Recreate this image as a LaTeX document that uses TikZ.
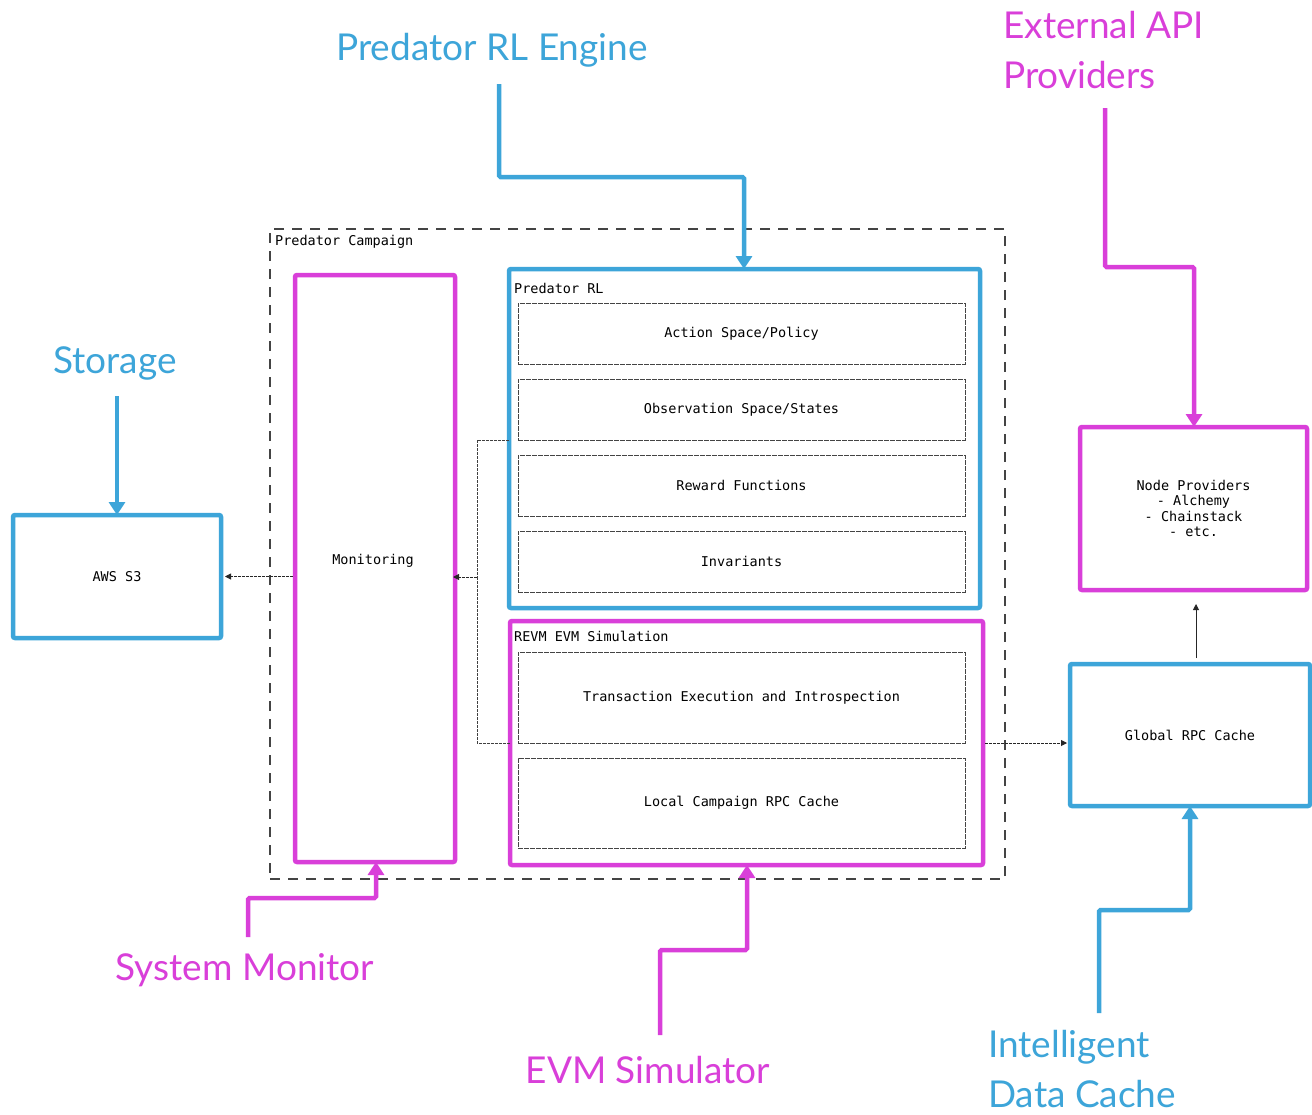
\documentclass[tikz,border=0pt]{standalone}
\usepackage{fontspec}
\setmainfont{Lato}
\setmonofont{DejaVu Sans Mono}
\usetikzlibrary{arrows.meta,calc}
\definecolor{cblue}{HTML}{3DA5D9}
\definecolor{cmag}{HTML}{D93FD9}
\definecolor{cgray}{HTML}{444444}

\begin{document}
\begin{tikzpicture}[x=1pt,y=-1pt,
  mono/.style={font=\ttfamily\fontsize{13.5}{15.5}\selectfont},
  box/.style={rectangle, inner sep=0pt, outer sep=0pt, align=center, mono},
  bluebox/.style={box, draw=cblue, line width=4.5pt, rounded corners=2pt},
  magbox/.style={box, draw=cmag, line width=4.5pt, rounded corners=2pt},
  innerbox/.style={box, draw=cgray, line width=1pt, dash pattern=on 5pt off 1pt},
  campbox/.style={box, draw=cgray, line width=1.3pt, dash pattern=on 10pt off 8pt},
  title/.style={anchor=west, inner sep=0pt, mono},
  anno/.style={inner sep=0pt, font=\fontsize{37}{50}\selectfont},
  call/.style={line width=4.5pt, rounded corners=1.5pt, -{Triangle[width=16pt,length=13pt]}},
  thinarrow/.style={draw=black!85, line width=0.9pt, dash pattern=on 3pt off 1pt, -{Triangle[width=6pt,length=6pt]}},
  link/.style={draw=black!75, line width=0.9pt, dash pattern=on 3pt off 1pt},
]
\useasboundingbox[fill=white] (0,0) rectangle (1312,1114);

% campaign frame
\node[campbox, minimum width=735pt, minimum height=650pt] (camp) at (637.5,554) {};
\node[title] (camptitle) at (275,242) {Predator Campaign};

% monitoring
\node[magbox, minimum width=160pt, minimum height=587pt] (mon) at (375,568.5) {};
\node[mono] (montext) at (373,561) {Monitoring};

% Predator RL group
\node[bluebox, minimum width=471pt, minimum height=339pt] (rl) at (744.5,438.5) {};
\node[title] (rltitle) at (514,288) {Predator RL};
\node[innerbox, minimum width=447pt, minimum height=61pt] (act) at (741.5,333.5) {Action Space/Policy};
\node[innerbox, minimum width=447pt, minimum height=61pt] (obs) at (741.5,409.5) {Observation Space/States};
\node[innerbox, minimum width=447pt, minimum height=61pt] (rew) at (741.5,485.5) {Reward Functions};
\node[innerbox, minimum width=447pt, minimum height=61pt] (inv) at (741.5,561.5) {Invariants};

% REVM group
\node[magbox, minimum width=473pt, minimum height=244pt] (revm) at (746.5,743) {};
\node[title] (revmtitle) at (514,636) {REVM EVM Simulation};
\node[innerbox, minimum width=447pt, minimum height=91pt] (trans) at (741.5,697.5) {Transaction Execution and Introspection};
\node[innerbox, minimum width=447pt, minimum height=90pt] (local) at (741.5,803) {Local Campaign RPC Cache};

% external boxes
\node[bluebox, minimum width=208pt, minimum height=123pt] (s3) at (117,576.5) {AWS S3};
\node[magbox, minimum width=227pt, minimum height=163pt] (np) at (1193.5,508.5) {Node Providers\\ - Alchemy\\ - Chainstack\\ - etc.};
\node[bluebox, minimum width=240pt, minimum height=142pt] (grc) at (1190,735) {Global RPC Cache};

% internal connectors
\coordinate (j) at (477,577);
\draw[link] (rl.west |- obs.south) -| (j);
\draw[link] (revm.west |- trans.south) -| (j);
\draw[thinarrow] (j) -- ([xshift=-2pt]mon.east |- j);
\draw[thinarrow] ([xshift=-2pt]mon.west |- s3.east) -- ([xshift=4pt]s3.east);
\draw[thinarrow] ([xshift=2pt]revm.east |- trans.south) -- ([xshift=-3pt]grc.west |- trans.south);
\coordinate (npx) at (1196,0);
\draw[thinarrow, dash pattern=] ([yshift=6pt]grc.north -| npx) -- ([yshift=-14pt]np.south -| npx);

% annotations
\node[anno, text=cblue] (engine) at (492,50) {Predator RL Engine};
\node[anno, text=cmag, anchor=west, align=left] (ext) at (1003,50) {External API\\Providers};
\node[anno, text=cblue] (storage) at (115,363) {Storage};
\node[anno, text=cmag] (sysmon) at (245,970) {System Monitor};
\node[anno, text=cmag] (evmsim) at (648,1070) {EVM Simulator};
\node[anno, text=cblue, anchor=west, align=left] (cache) at (988,1069) {Intelligent\\Data Cache};

\draw[call, draw=cblue] (499,84) -- (499,177) -- (744,177) -- (rl.north -| 744,0);
\draw[call, draw=cmag] (1105,108) -- (1105,267) -- (1194,267) -- (np.north -| 1194,0);
\draw[call, draw=cblue] (117,396) -- (s3.north -| 117,0);
\draw[call, draw=cmag] (248,937) -- (248,898) -- (376,898) -- (mon.south -| 376,0);
\draw[call, draw=cmag] (660,1035) -- (660,950) -- (747,950) -- (revm.south -| 747,0);
\draw[call, draw=cblue] (1099,1013) -- (1099,910) -- (1190,910) -- (grc.south);
\end{tikzpicture}
\end{document}
